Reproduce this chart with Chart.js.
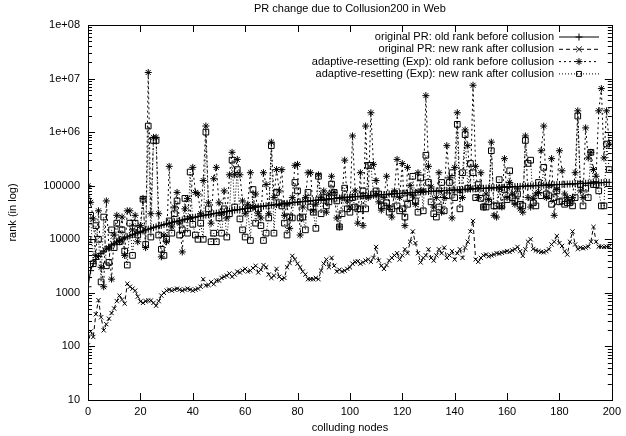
<!DOCTYPE html>
<html>
<head>
<meta charset="utf-8">
<title>PR change due to Collusion200 in Web</title>
<script src="https://cdn.jsdelivr.net/npm/chart.js@4.4.0/dist/chart.umd.min.js"></script>
<style>
	html, body { margin: 0; padding: 0; background: #fff; }
	#charts { width: 626px; height: 436px; }
</style>
</head>
<body>
<div id="charts"><canvas id="chart" width="626" height="436"></canvas></div>
<script>
/* PR change due to Collusion200 in Web - gnuplot style chart */

// x : colluding node index
const nodes = Array.from({ length: 200 }, (_, i) => i);

// original PR : old rank before collusion
const oldRankPR = [
	1300, 2600, 3500, 4200, 4800, 5400, 6000, 6600, 7200, 7800,
	8400, 9000, 9500, 10000, 10600, 11100, 11600, 12100, 12700, 13200,
	13800, 14300, 14900, 15400, 16000, 16500, 17100, 17700, 18200, 18800,
	19400, 20000, 20500, 21100, 21700, 22300, 22900, 23500, 24100, 24700,
	25300, 25900, 26500, 27100, 27700, 28300, 28900, 29500, 30100, 30700,
	31300, 31900, 32500, 33100, 33700, 34300, 34900, 35500, 36100, 36700,
	37300, 37900, 38500, 39100, 39700, 40300, 40900, 41500, 42100, 42700,
	43300, 43900, 44500, 45100, 45700, 46300, 46900, 47500, 48100, 48700,
	49300, 49900, 50500, 51100, 51700, 52300, 52900, 53500, 54100, 54700,
	55300, 55900, 56500, 57100, 57700, 58300, 58900, 59500, 60100, 60700,
	61300, 61850, 62400, 62950, 63500, 64050, 64600, 65150, 65700, 66250,
	66800, 67350, 67900, 68450, 69000, 69550, 70100, 70650, 71200, 71750,
	72300, 72850, 73400, 73950, 74500, 75050, 75600, 76150, 76700, 77250,
	77800, 78350, 78900, 79450, 80000, 80550, 81100, 81650, 82200, 82750,
	83300, 83850, 84400, 84950, 85500, 86050, 86600, 87150, 87700, 88250,
	88800, 89350, 89900, 90450, 91000, 91550, 92100, 92650, 93200, 93750,
	94300, 94850, 95400, 95950, 96500, 97050, 97600, 98150, 98700, 99250,
	99800, 100350, 100900, 101450, 102000, 102550, 103100, 103650, 104200, 104750,
	105300, 105850, 106400, 106950, 107500, 108050, 108600, 109150, 109700, 110250,
	110800, 111350, 111900, 112450, 113000, 113550, 114100, 114650, 115200, 115750
];

// original PR : new rank after collusion
const newRankPR = [
	105, 190, 150, 400, 730, 350, 200, 260, 330, 420,
	510, 700, 890, 750, 630, 1480, 1300, 1200, 1100, 850,
	690, 650, 700, 720, 720, 650, 575, 700, 890, 1000,
	1100, 1150, 1100, 1150, 1200, 1150, 1100, 1150, 1200, 1150,
	1100, 1150, 1200, 1300, 1800, 1370, 1400, 1600, 1450, 1700,
	1700, 1900, 2000, 2100, 2300, 2000, 2200, 2500, 2400, 2600,
	2800, 2500, 2600, 2900, 3200, 2400, 2700, 3300, 3000, 2200,
	1900, 2100, 2800, 2000, 1800, 1900, 3000, 3600, 4900, 4200,
	3500, 3000, 2500, 2200, 1800, 1800, 1800, 1900, 1800, 2600,
	3500, 4200, 3000, 4500, 3200, 2500, 2700, 2500, 2600, 2800,
	3000, 3500, 3800, 3900, 3500, 3700, 4000, 4200, 3800, 4500,
	7200, 4000, 3200, 2800, 3300, 4000, 4500, 5000, 5500, 4200,
	5000, 6500, 5500, 9000, 14000, 8500, 5500, 3700, 4500, 5000,
	6500, 4500, 4000, 5000, 6500, 5500, 7000, 4500, 5000, 6000,
	4200, 5500, 6500, 4500, 7000, 9000, 14000, 22000, 4200, 3800,
	4500, 5000, 5200, 4800, 5000, 5200, 5500, 5400, 5600, 5800,
	6000, 5800, 6200, 6500, 7200, 6000, 4900, 6500, 9000, 10000,
	6600, 6200, 6000, 5800, 5700, 6000, 6500, 8000, 9000, 11500,
	8500, 7500, 6000, 5200, 9000, 14000, 8000, 6600, 7000, 6800,
	7000, 7300, 9000, 17000, 9000, 7300, 7300, 7200, 7300, 7300
];

// adaptive-resetting (Exp) : old rank before collusion
const oldRankExp = [
	100000, 49000, 24000, 5000, 34000, 3000, 1300, 52000, 6800, 1800,
	12000, 28000, 9000, 26000, 5000, 34000, 34000, 15000, 28000, 9000,
	18000, 58000, 7000, 13000000, 30000, 800000, 800000, 30000, 4700, 12000,
	9000, 230000, 17000, 40000, 75000, 20000, 5800, 37000, 58000, 25000,
	220000, 75000, 70000, 30000, 125000, 1300000, 48000, 20000, 135000, 220000,
	48000, 30000, 80000, 25000, 160000, 420000, 160000, 310000, 160000, 52000,
	30000, 45000, 175000, 40000, 70000, 30000, 25000, 175000, 105000, 30000,
	650000, 60000, 200000, 80000, 200000, 28000, 45000, 16000, 60000, 240000,
	250000, 12000, 40000, 60000, 175000, 175000, 34000, 45000, 160000, 60000,
	80000, 32000, 70000, 150000, 75000, 25000, 17000, 60000, 300000, 52000,
	40000, 850000, 80000, 20000, 175000, 18000, 1300000, 60000, 2300000, 250000,
	125000, 50000, 35000, 60000, 150000, 40000, 26000, 80000, 310000, 60000,
	260000, 18000, 220000, 100000, 65000, 45000, 175000, 80000, 80000, 4800000,
	230000, 95000, 40000, 60000, 175000, 32000, 60000, 560000, 140000, 25000,
	220000, 2300000, 80000, 60000, 1100000, 560000, 90000, 7500000, 230000, 60000,
	175000, 40000, 70000, 55000, 650000, 28000, 26000, 90000, 40000, 320000,
	60000, 115000, 70000, 45000, 90000, 37000, 32000, 850000, 60000, 40000,
	58000, 70000, 75000, 450000, 1300000, 60000, 100000, 320000, 28000, 85000,
	450000, 190000, 70000, 60000, 50000, 60000, 175000, 2500000, 80000, 60000,
	1200000, 330000, 420000, 200000, 150000, 2500000, 6500000, 330000, 2500000, 600000
];

// adaptive-resetting (Exp) : new rank after collusion
const newRankExp = [
	10000, 28000, 3500, 18000, 10000, 1600, 26000, 3200, 3700, 15000,
	7000, 20000, 9000, 15000, 6000, 3300, 20000, 5000, 20000, 12000,
	15000, 56000, 8000, 1300000, 11000, 700000, 700000, 12000, 6500, 5000,
	10000, 22000, 13000, 30000, 52000, 12000, 15000, 58000, 13000, 180000,
	19000, 12000, 10000, 20000, 10000, 1000000, 37000, 9000, 13000, 9000,
	25000, 13000, 37000, 11000, 30000, 300000, 40000, 200000, 24000, 15000,
	11000, 37000, 9500, 85000, 20000, 37000, 18000, 9500, 13000, 25000,
	560000, 13000, 75000, 48000, 42000, 20000, 12000, 26000, 25000, 115000,
	80000, 25000, 26000, 15000, 75000, 40000, 32000, 16000, 150000, 30000,
	60000, 42000, 50000, 107000, 75000, 52000, 17000, 30000, 90000, 37000,
	32000, 60000, 40000, 37000, 37000, 80000, 37000, 240000, 240000, 70000,
	80000, 70000, 42000, 42000, 48000, 32000, 37000, 70000, 42000, 34000,
	37000, 26000, 45000, 60000, 150000, 52000, 32000, 140000, 34000, 370000,
	115000, 50000, 30000, 26000, 40000, 115000, 34000, 65000, 115000, 175000,
	60000, 1400000, 37000, 175000, 900000, 90000, 260000, 175000, 60000, 105000,
	58000, 40000, 40000, 50000, 450000, 42000, 42000, 130000, 42000, 85000,
	55000, 190000, 60000, 52000, 70000, 45000, 42000, 700000, 260000, 300000,
	48000, 42000, 115000, 65000, 220000, 70000, 65000, 45000, 60000, 80000,
	50000, 52000, 45000, 48000, 48000, 42000, 60000, 2000000, 105000, 42000,
	90000, 60000, 420000, 105000, 105000, 80000, 42000, 42000, 600000, 200000
];

// tick labels
const xTicks = [0, 20, 40, 60, 80, 100, 120, 140, 160, 180, 200];
const yTicks = [10, 100, 1000, 10000, 100000, 1e6, 1e7, 1e8];
const yTickLabels = ['10', '100', '1000', '10000', '100000', '1e+06', '1e+07', '1e+08'];

const seriesNames = [
	'original PR: old rank before collusion',
	'original PR: new rank after collusion',
	'adaptive-resetting (Exp): old rank before collusion',
	'adaptive-resetting (Exp): new rank after collusion'
];

const FONT = 'Liberation Sans, Arial, Helvetica, sans-serif';

function toPoints(values) {
	return nodes.map((n, i) => ({ x: n, y: values[i] }));
}

// marker styles / dash styles for each series
const styles = [
	{ point: 'cross', radius: 3.5, dash: [] },
	{ point: 'crossRot', radius: 3, dash: [4, 3] },
	{ point: 'star', radius: 3.5, dash: [2, 3] },
	{ point: 'rect', radius: 4, dash: [1, 2] }
];
const allSeries = [oldRankPR, newRankPR, oldRankExp, newRankExp];

const datasets = allSeries.map((vals, i) => ({
	label: seriesNames[i],
	data: toPoints(vals),
	borderColor: '#000',
	backgroundColor: 'rgba(0,0,0,0)',
	borderWidth: 1,
	borderDash: styles[i].dash,
	pointStyle: styles[i].point,
	pointRadius: styles[i].radius,
	pointBorderWidth: 1,
	pointBorderColor: '#000',
	pointBackgroundColor: 'rgba(0,0,0,0)',
	tension: 0,
	order: 4 - i
}));

// draw a marker for the legend sample
function drawMarker(ctx, style, x, y, r) {
	ctx.beginPath();
	if (style === 'cross') {
		ctx.moveTo(x - r, y); ctx.lineTo(x + r, y);
		ctx.moveTo(x, y - r); ctx.lineTo(x, y + r);
	} else if (style === 'crossRot') {
		ctx.moveTo(x - r * 0.8, y - r * 0.8); ctx.lineTo(x + r * 0.8, y + r * 0.8);
		ctx.moveTo(x - r * 0.8, y + r * 0.8); ctx.lineTo(x + r * 0.8, y - r * 0.8);
	} else if (style === 'star') {
		ctx.moveTo(x - r, y); ctx.lineTo(x + r, y);
		ctx.moveTo(x, y - r); ctx.lineTo(x, y + r);
		ctx.moveTo(x - r * 0.7, y - r * 0.7); ctx.lineTo(x + r * 0.7, y + r * 0.7);
		ctx.moveTo(x - r * 0.7, y + r * 0.7); ctx.lineTo(x + r * 0.7, y - r * 0.7);
	} else {
		ctx.rect(x - r * 0.7, y - r * 0.7, r * 1.4, r * 1.4);
	}
	ctx.stroke();
}

// frame, inward ticks, titles and legend like gnuplot
const gnuplotLook = {
	id: 'gnuplotLook',
	afterDraw(chart) {
		const ctx = chart.ctx;
		const area = chart.chartArea;
		const xs = chart.scales.x;
		const ys = chart.scales.y;
		ctx.save();
		ctx.strokeStyle = '#000';
		ctx.lineWidth = 1;
		ctx.setLineDash([]);

		// frame
		ctx.strokeRect(Math.round(area.left) + 0.5, Math.round(area.top) + 0.5,
			Math.round(area.right - area.left), Math.round(area.bottom - area.top));

		// x ticks
		ctx.beginPath();
		xTicks.forEach(v => {
			const px = Math.round(xs.getPixelForValue(v)) + 0.5;
			ctx.moveTo(px, area.bottom); ctx.lineTo(px, area.bottom - 7);
			ctx.moveTo(px, area.top); ctx.lineTo(px, area.top + 7);
		});
		// y ticks (major + minor)
		yTicks.forEach((v, k) => {
			const py = Math.round(ys.getPixelForValue(v)) + 0.5;
			ctx.moveTo(area.left, py); ctx.lineTo(area.left + 7, py);
			ctx.moveTo(area.right, py); ctx.lineTo(area.right - 7, py);
			if (k < yTicks.length - 1) {
				for (let m = 2; m <= 9; m++) {
					const pm = Math.round(ys.getPixelForValue(v * m)) + 0.5;
					ctx.moveTo(area.left, pm); ctx.lineTo(area.left + 4, pm);
					ctx.moveTo(area.right, pm); ctx.lineTo(area.right - 4, pm);
				}
			}
		});
		ctx.stroke();

		// titles
		ctx.fillStyle = '#000';
		ctx.font = '11px ' + FONT;
		ctx.textAlign = 'center';
		ctx.textBaseline = 'middle';
		const cx = (area.left + area.right) / 2;
		ctx.fillText('PR change due to Collusion200 in Web', cx, 9);
		ctx.fillText('colluding nodes', cx, 428);
		ctx.save();
		ctx.translate(13, (area.top + area.bottom) / 2);
		ctx.rotate(-Math.PI / 2);
		ctx.fillText('rank (in log)', 0, 0);
		ctx.restore();

		// legend
		ctx.textAlign = 'right';
		seriesNames.forEach((name, i) => {
			const y = 37 + i * 12.3;
			ctx.fillStyle = '#000';
			ctx.fillText(name, 554, y);
			ctx.setLineDash(styles[i].dash);
			ctx.beginPath();
			ctx.moveTo(559, y); ctx.lineTo(599, y);
			ctx.stroke();
			ctx.setLineDash([]);
			drawMarker(ctx, styles[i].point, 579, y, 3.5);
		});
		ctx.restore();
	}
};

const config = {
	type: 'line',
	data: { datasets: datasets },
	options: {
		responsive: false,
		animation: false,
		layout: { padding: { top: 25, right: 14, left: 0, bottom: 0 } },
		plugins: {
			legend: { display: false },
			tooltip: { enabled: false },
			title: { display: false }
		},
		scales: {
			x: {
				type: 'linear',
				min: 0,
				max: 200,
				grid: { display: false, drawTicks: false },
				border: { display: false },
				afterBuildTicks: s => { s.ticks = xTicks.map(v => ({ value: v })); },
				ticks: {
					color: '#000',
					padding: 5,
					maxRotation: 0,
					autoSkip: false,
					font: { family: FONT, size: 11 }
				},
				afterFit: s => { s.height = 36; }
			},
			y: {
				type: 'logarithmic',
				min: 10,
				max: 1e8,
				grid: { display: false, drawTicks: false },
				border: { display: false },
				afterBuildTicks: s => { s.ticks = yTicks.map(v => ({ value: v })); },
				ticks: {
					color: '#000',
					padding: 8,
					autoSkip: false,
					font: { family: FONT, size: 11 },
					callback: v => {
						const k = yTicks.indexOf(v);
						return k >= 0 ? yTickLabels[k] : '';
					}
				},
				afterFit: s => { s.width = 88; }
			}
		}
	},
	plugins: [gnuplotLook]
};

const chart = new Chart(document.getElementById('chart'), config);
</script>
</body>
</html>
